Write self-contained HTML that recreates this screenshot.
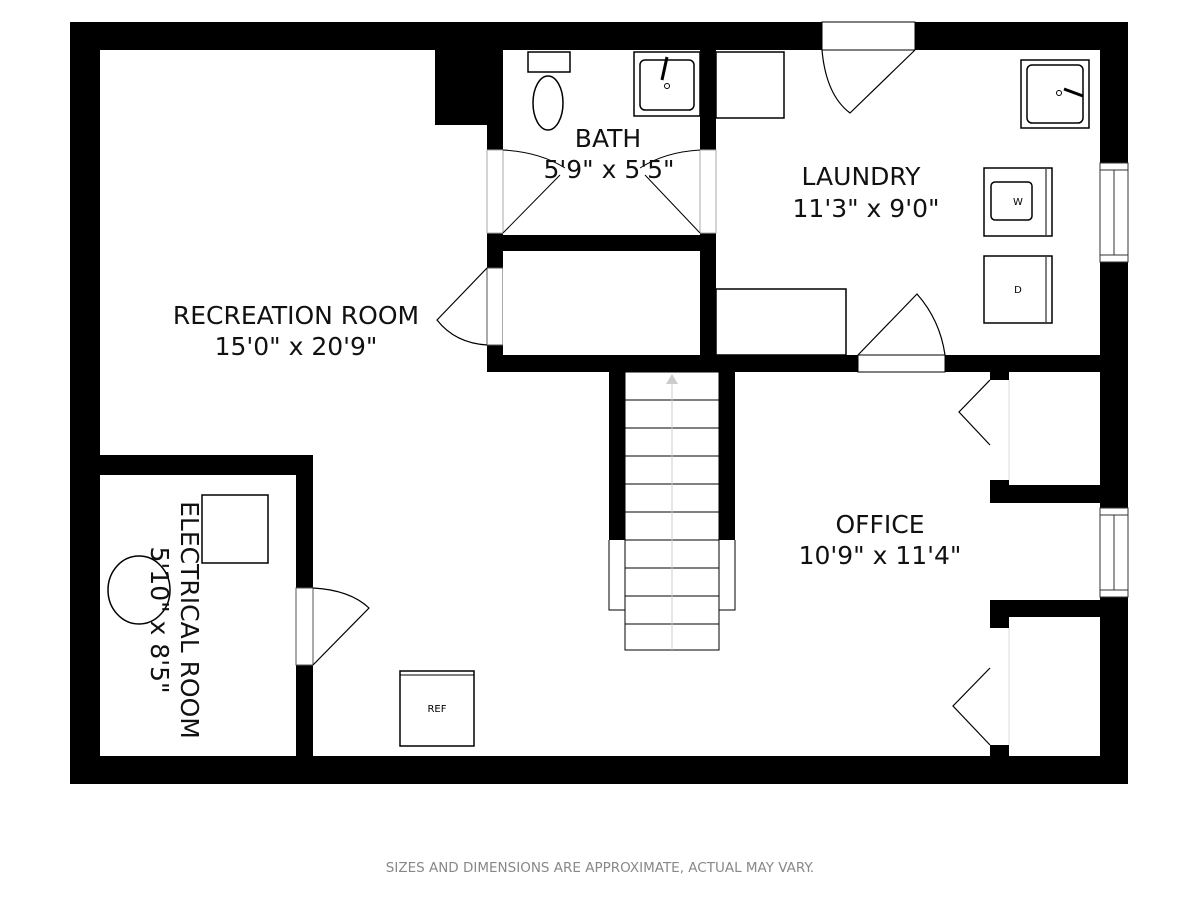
<!DOCTYPE html>
<html><head><style>body{margin:0;background:#fff}svg{display:block}</style></head><body>
<svg width="1200" height="900" viewBox="0 0 1200 900" xmlns="http://www.w3.org/2000/svg" font-family="'DejaVu Sans','Liberation Sans',sans-serif">
<rect width="1200" height="900" fill="#fff"/>
<path d="M70 22H1128V784H70Z M100 50V756H1100V50Z" fill="#000" fill-rule="evenodd"/>
<rect x="822" y="22" width="93" height="28" fill="#fff" stroke="#000" stroke-width="1"/>
<path d="M822 50 Q826 95 850 113 L915 50" fill="none" stroke="#000" stroke-width="1.2"/>
<rect x="1100" y="163" width="28" height="99" fill="#fff" stroke="#333" stroke-width="1"/>
<line x1="1100" y1="170" x2="1128" y2="170" stroke="#333"/><line x1="1100" y1="255" x2="1128" y2="255" stroke="#333"/><line x1="1114" y1="170" x2="1114" y2="255" stroke="#333"/>
<rect x="1100" y="508" width="28" height="89" fill="#fff" stroke="#333" stroke-width="1"/>
<line x1="1100" y1="515" x2="1128" y2="515" stroke="#333"/><line x1="1100" y1="590" x2="1128" y2="590" stroke="#333"/><line x1="1114" y1="515" x2="1114" y2="590" stroke="#333"/>
<rect x="435" y="50" width="52" height="75" fill="#000"/>
<rect x="487" y="50" width="16" height="100" fill="#000"/>
<rect x="487" y="233" width="16" height="35" fill="#000"/>
<rect x="487" y="345" width="16" height="27" fill="#000"/>
<rect x="487" y="268" width="16" height="77" fill="#fff" stroke="#555" stroke-width="1"/>
<rect x="487" y="150" width="16" height="83" fill="#fff" stroke="#aaa" stroke-width="1"/>
<rect x="700" y="50" width="16" height="100" fill="#000"/>
<rect x="700" y="233" width="16" height="139" fill="#000"/>
<rect x="700" y="150" width="16" height="83" fill="#fff" stroke="#aaa" stroke-width="1"/>
<rect x="487" y="235" width="229" height="16" fill="#000"/>
<rect x="487" y="355" width="613" height="17" fill="#000"/>
<rect x="858" y="355" width="87" height="17" fill="#fff" stroke="#000" stroke-width="1"/>
<path d="M858 355 L917 294 Q940 320 945 355" fill="none" stroke="#000" stroke-width="1.2"/>
<path d="M503 233 L560 175 M503 150 Q540 152 565 168" fill="none" stroke="#000" stroke-width="1"/>
<path d="M700 233 L645 175 M700 150 Q665 152 640 168" fill="none" stroke="#000" stroke-width="1"/>
<path d="M487 268 L437 320 Q455 343 487 345" fill="none" stroke="#000" stroke-width="1.2"/>
<rect x="528" y="52" width="42" height="20" fill="#fff" stroke="#000" stroke-width="1.5"/>
<ellipse cx="548" cy="103" rx="15" ry="27" fill="#fff" stroke="#000" stroke-width="1.5"/>
<rect x="634" y="52" width="66" height="64" fill="#fff" stroke="#000" stroke-width="1.5"/>
<rect x="640" y="60" width="54" height="50" rx="5" fill="#fff" stroke="#000" stroke-width="1.5"/>
<line x1="667" y1="57" x2="662" y2="80" stroke="#000" stroke-width="3"/>
<circle cx="667" cy="86" r="2.5" fill="#fff" stroke="#000"/>
<rect x="716" y="52" width="68" height="66" fill="#fff" stroke="#000" stroke-width="1.5"/>
<rect x="1021" y="60" width="68" height="68" fill="#fff" stroke="#000" stroke-width="1.5"/>
<rect x="1027" y="65" width="56" height="58" rx="5" fill="#fff" stroke="#000" stroke-width="1.5"/>
<line x1="1064" y1="89" x2="1083" y2="96" stroke="#000" stroke-width="3"/>
<circle cx="1059" cy="93" r="2.5" fill="#fff" stroke="#000"/>
<rect x="984" y="168" width="68" height="68" fill="#fff" stroke="#000" stroke-width="1.5"/>
<rect x="991" y="182" width="41" height="38" rx="4" fill="#fff" stroke="#000" stroke-width="1.5"/>
<line x1="1046" y1="169" x2="1046" y2="235" stroke="#000"/>
<text x="1018" y="205" font-size="10" text-anchor="middle">W</text>
<rect x="984" y="256" width="68" height="67" fill="#fff" stroke="#000" stroke-width="1.5"/>
<line x1="1046" y1="257" x2="1046" y2="322" stroke="#000"/>
<text x="1018" y="293" font-size="10" text-anchor="middle">D</text>
<rect x="716" y="289" width="130" height="66" fill="#fff" stroke="#000" stroke-width="1.5"/>
<rect x="503" y="251" width="197" height="104" fill="#fff"/>
<rect x="609" y="372" width="16" height="168" fill="#000"/>
<rect x="719" y="372" width="16" height="168" fill="#000"/>
<path d="M609 540V610H625 M735 540V610H719" fill="none" stroke="#000" stroke-width="1"/>
<g stroke="#000" stroke-width="1" fill="none">
<rect x="625" y="372" width="94" height="278"/>
<line x1="625" y1="400" x2="719" y2="400"/><line x1="625" y1="428" x2="719" y2="428"/><line x1="625" y1="456" x2="719" y2="456"/><line x1="625" y1="484" x2="719" y2="484"/><line x1="625" y1="512" x2="719" y2="512"/><line x1="625" y1="540" x2="719" y2="540"/><line x1="625" y1="568" x2="719" y2="568"/><line x1="625" y1="596" x2="719" y2="596"/><line x1="625" y1="624" x2="719" y2="624"/>
</g>
<line x1="672" y1="650" x2="672" y2="382" stroke="#ccc" stroke-width="1"/>
<path d="M672 374 L666 384 H678Z" fill="#ccc"/>
<rect x="100" y="455" width="213" height="20" fill="#000"/>
<rect x="296" y="455" width="17" height="133" fill="#000"/>
<rect x="296" y="665" width="17" height="91" fill="#000"/>
<rect x="296" y="588" width="17" height="77" fill="#fff" stroke="#555" stroke-width="1"/>
<path d="M313 588 Q350 590 369 608 L313 665" fill="none" stroke="#000" stroke-width="1.2"/>
<rect x="202" y="495" width="66" height="68" fill="#fff" stroke="#000" stroke-width="1.5"/>
<ellipse cx="139" cy="590" rx="31" ry="34" fill="none" stroke="#000" stroke-width="1.5"/>
<rect x="400" y="671" width="74" height="75" fill="#fff" stroke="#000" stroke-width="1.5"/>
<line x1="400" y1="675" x2="474" y2="675" stroke="#000"/>
<text x="437" y="712" font-size="10" text-anchor="middle">REF</text>
<rect x="990" y="372" width="19" height="8" fill="#000"/>
<rect x="990" y="480" width="19" height="23" fill="#000"/>
<rect x="1009" y="485" width="91" height="18" fill="#000"/>
<rect x="990" y="600" width="110" height="17" fill="#000"/>
<rect x="990" y="617" width="19" height="11" fill="#000"/>
<rect x="990" y="745" width="19" height="11" fill="#000"/>
<line x1="1009" y1="380" x2="1009" y2="480" stroke="#ddd"/>
<line x1="1009" y1="628" x2="1009" y2="745" stroke="#ddd"/>
<path d="M990 380 L959 412 L990 445" fill="none" stroke="#000" stroke-width="1.2"/>
<path d="M990 668 L953 706 L990 745" fill="none" stroke="#000" stroke-width="1.2"/>
<g font-size="25" fill="#111" text-anchor="middle">
<text x="608" y="147">BATH</text>
<text x="609" y="178">5'9" x 5'5"</text>
<text x="861" y="185">LAUNDRY</text>
<text x="866" y="217">11'3" x 9'0"</text>
<text x="296" y="324">RECREATION ROOM</text>
<text x="296" y="355">15'0" x 20'9"</text>
<text x="880" y="533">OFFICE</text>
<text x="880" y="564">10'9" x 11'4"</text>
<text transform="translate(181,620) rotate(90)">ELECTRICAL ROOM</text>
<text transform="translate(151,620) rotate(90)">5'10" x 8'5"</text>
</g>
<text x="600" y="872" font-size="13.5" fill="#888" text-anchor="middle">SIZES AND DIMENSIONS ARE APPROXIMATE, ACTUAL MAY VARY.</text>
</svg>
</body></html>
